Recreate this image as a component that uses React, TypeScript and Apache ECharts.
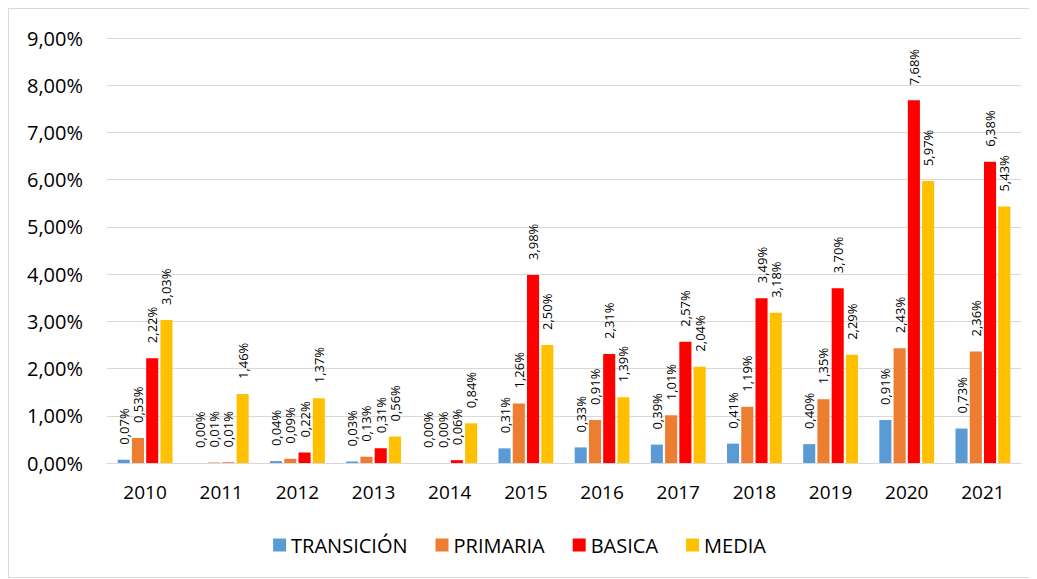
import React, { useEffect, useRef } from "react";
import * as echarts from "echarts";

const categories = ["2010", "2011", "2012", "2013", "2014", "2015", "2016", "2017", "2018", "2019", "2020", "2021"];
const transicion = [0.07, 0.0, 0.04, 0.03, 0.0, 0.31, 0.33, 0.39, 0.41, 0.4, 0.91, 0.73];
const primaria = [0.53, 0.01, 0.09, 0.13, 0.0, 1.26, 0.91, 1.01, 1.19, 1.35, 2.43, 2.36];
const basica = [2.22, 0.01, 0.22, 0.31, 0.06, 3.98, 2.31, 2.57, 3.49, 3.7, 7.68, 6.38];
const media = [3.03, 1.46, 1.37, 0.56, 0.84, 2.5, 1.39, 2.04, 3.18, 2.29, 5.97, 5.43];

const seriesNames = ["TRANSICIÓN", "PRIMARIA", "BASICA", "MEDIA"];
const colors = ["#5B9BD5", "#ED7D31", "#FF0000", "#FFC000"];

const FONT = "'Open Sans', sans-serif";
const fmt = (v: number) => v.toFixed(2).replace(".", ",") + "%";

export default function App() {
  const ref = useRef<HTMLDivElement>(null);
  useEffect(() => {
    if (!ref.current) return;
    const chart = echarts.init(ref.current, null, { renderer: "svg" });
    const data = [transicion, primaria, basica, media];
    chart.setOption({
      animation: false,
      textStyle: { fontFamily: FONT },
      grid: { left: 98, top: 29, width: 914, height: 425, containLabel: false },
      legend: {
        bottom: 17,
        left: "center",
        itemWidth: 13,
        itemHeight: 13,
        itemGap: 28,
        itemTextGap: 5,
        icon: "rect",
        textStyle: { fontSize: 20, color: "#000", fontFamily: FONT },
        data: seriesNames,
      },
      xAxis: {
        type: "category",
        data: categories,
        axisLine: { lineStyle: { color: "#d9d9d9" } },
        axisTick: { show: false },
        axisLabel: { fontSize: 19, color: "#000", margin: 19, fontFamily: FONT },
      },
      yAxis: {
        type: "value",
        min: 0,
        max: 9,
        interval: 1,
        axisLine: { show: false },
        axisTick: { show: false },
        splitLine: { lineStyle: { color: "#d9d9d9" } },
        axisLabel: {
          fontSize: 20,
          color: "#000",
          margin: 24,
          fontFamily: FONT,
          formatter: (v: number) => fmt(v),
        },
      },
      series: seriesNames.map((name, i) => ({
        name,
        type: "bar",
        data: data[i],
        barGap: "18%",
        barCategoryGap: "28%",
        itemStyle: { color: colors[i] },
        label: {
          show: true,
          position: "top",
          rotate: 90,
          align: "left",
          verticalAlign: "middle",
          distance: 15,
          fontSize: 13,
          color: "#000",
          fontFamily: FONT,
          formatter: (p: any) => fmt(p.value),
        },
      })),
    });
    return () => chart.dispose();
  }, []);
  return (
    <div
      style={{
        width: 1023,
        height: 570,
        border: "1px solid #d9d9d9",
        boxSizing: "border-box",
        background: "#fff",
      }}
    >
      <div ref={ref} style={{ width: 1021, height: 568 }} />
    </div>
  );
}
